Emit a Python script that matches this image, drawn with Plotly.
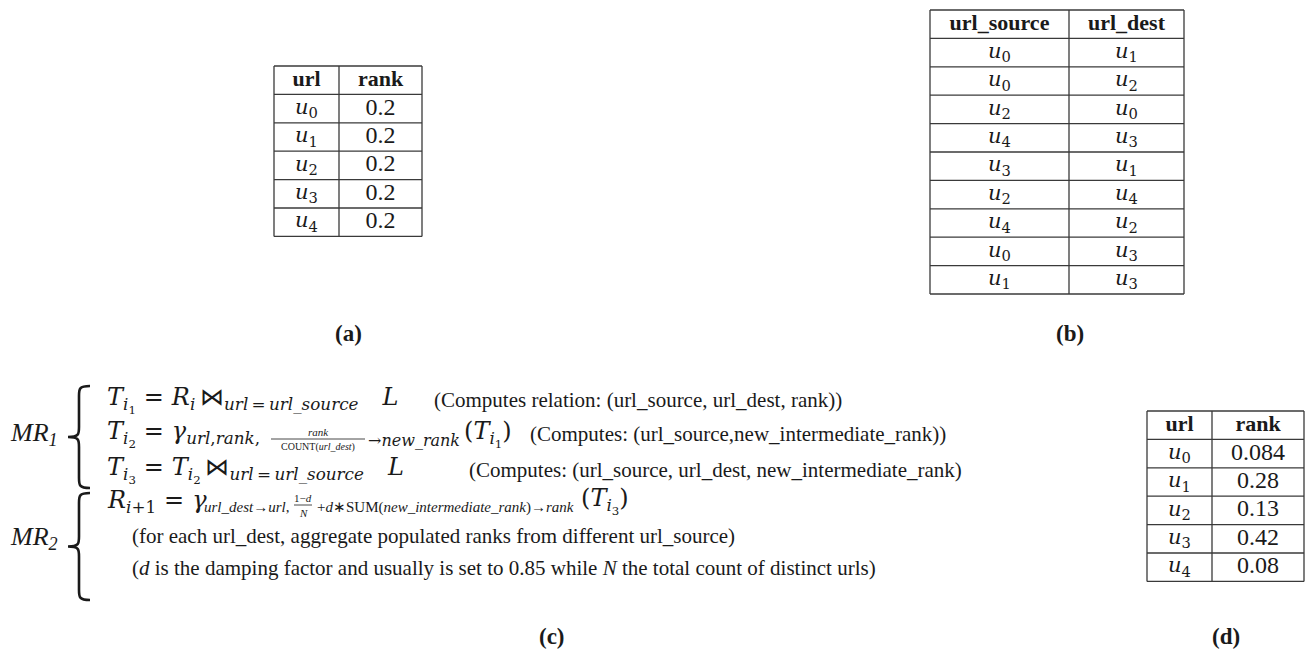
import plotly.graph_objects as go

W, H = 1309, 664

# (a) initial ranks
urls_a = [0, 1, 2, 3, 4]
ranks_a = ["0.2", "0.2", "0.2", "0.2", "0.2"]

# (b) link table
url_source = [0, 0, 2, 4, 3, 2, 4, 0, 1]
url_dest = [1, 2, 0, 3, 1, 4, 2, 3, 3]

# (d) ranks after the iteration
urls_d = [0, 1, 2, 3, 4]
ranks_d = ["0.084", "0.28", "0.13", "0.42", "0.08"]

SERIF = "Liberation Serif"
MATH = "DejaVu Serif"
INK = "#1a1a1a"
ROW_H = 28.4
EM = "\u2003"
THICK = "\u2004"
THIN = "\u2009"

fig = go.Figure()


def u(i):
    return "<i>u</i><sub>%d</sub>" % i


def add_table(x_edges, top, header, columns, fonts):
    n = len(columns[0]) + 1
    bottom = top + n * ROW_H
    line = dict(color="#3a3a3a", width=1.3)
    for r in range(n + 1):
        y = top + r * ROW_H
        fig.add_shape(type="line", x0=x_edges[0], x1=x_edges[-1], y0=y, y1=y, line=line)
    for x in x_edges:
        fig.add_shape(type="line", x0=x, x1=x, y0=top, y1=bottom, line=line)
    for j, col in enumerate(columns):
        xc = (x_edges[j] + x_edges[j + 1]) / 2
        fig.add_trace(go.Scatter(
            x=[xc], y=[top + 0.5 * ROW_H], mode="text",
            text=["<b>%s</b>" % header[j]],
            textfont=dict(family=SERIF, size=22, color=INK),
            hoverinfo="skip", showlegend=False,
        ))
        fam, size = fonts[j]
        fig.add_trace(go.Scatter(
            x=[xc] * len(col),
            y=[top + (r + 1.5) * ROW_H for r in range(len(col))],
            mode="text", text=list(col),
            textfont=dict(family=fam, size=size, color=INK),
            hoverinfo="skip", showlegend=False,
        ))


UF = (MATH, 21)
NF = (SERIF, 24)
add_table([274, 339, 422], 66, ["url", "rank"], [[u(i) for i in urls_a], ranks_a], [UF, NF])
add_table([930, 1069, 1184], 10, ["url_source", "url_dest"],
          [[u(i) for i in url_source], [u(i) for i in url_dest]], [UF, UF])
add_table([1147, 1212, 1304], 411, ["url", "rank"], [[u(i) for i in urls_d], ranks_d], [UF, NF])


def txt(x, y, s, size=21, anchor="left", bold=False, family=SERIF):
    if bold:
        s = "<b>%s</b>" % s
    fig.add_annotation(x=x, y=y, text=s, showarrow=False, xanchor=anchor, yanchor="middle",
                       font=dict(family=family, size=size, color=INK))


# panel labels
for lab, x, y in [("(a)", 348, 333), ("(b)", 1070, 333), ("(c)", 552, 636), ("(d)", 1226, 636)]:
    txt(x, y, lab, size=23, anchor="center", bold=True)


def brace(y0, y1, xt, xa):
    xm = (xt + xa) / 2
    ym = (y0 + y1) / 2
    r = 10
    p = (f"M {xa},{y0} C {xm},{y0} {xm},{y0 + 3} {xm},{y0 + r} L {xm},{ym - r} "
         f"C {xm},{ym - 3} {xm},{ym} {xt},{ym} C {xm},{ym} {xm},{ym + 3} {xm},{ym + r} "
         f"L {xm},{y1 - r} C {xm},{y1 - 3} {xm},{y1} {xa},{y1}")
    fig.add_shape(type="path", path=p, line=dict(color=INK, width=2.6))


brace(386, 488, 68, 90)
brace(493, 600, 68, 90)
txt(8, 434, "<i>MR</i><sub><i>1</i></sub>", size=26)
txt(8, 538, "<i>MR</i><sub><i>2</i></sub>", size=26)

MS = 24  # math size


def T(k):
    return "<i>T</i><sub><i>i</i><sub>%d</sub></sub>" % k


def frac(xc, y, num, den, half, size=11):
    txt(xc, y - 7, num, size=size, anchor="center")
    fig.add_shape(type="line", x0=xc - half, x1=xc + half, y0=y, y1=y,
                  line=dict(color=INK, width=0.8))
    txt(xc, y + 8, den, size=size - (1 if half > 20 else 0), anchor="center")


EQ = THICK + "=" + THICK
JOIN = THIN + "⋈<sub><i>url</i>" + THIN + "=" + THIN + "<i>url_source</i></sub>" + EM + "<i>L</i>"

# MR1 line 1
txt(105, 400, T(1) + EQ + "<i>R</i><sub><i>i</i></sub>" + JOIN, size=MS, family=MATH)
txt(432, 400, "(Computes relation: (url_source, url_dest, rank))")

# MR1 line 2
txt(105, 434, T(2) + EQ + "<i>γ</i><sub><i>url</i>,<i>rank</i>,</sub>", size=MS, family=MATH)
frac(318, 439, "<i>rank</i>", "COUNT(<i>url_dest</i>)", 47)
txt(366, 440, "→<i>new_rank</i>", size=16, family=MATH)
txt(462, 434, "(" + T(1) + ")", size=MS, family=MATH)
txt(528, 434, "(Computes: (url_source,new_intermediate_rank))")

# MR1 line 3
txt(105, 470, T(3) + EQ + T(2) + JOIN, size=MS, family=MATH)
txt(467, 470, "(Computes: (url_source, url_dest, new_intermediate_rank)")

# MR2 line 1
txt(105, 501, "<i>R</i><sub><i>i</i>+1</sub>" + EQ + "<i>γ</i>", size=MS, family=MATH)
txt(202, 507, "<i>url_dest</i>→<i>url</i>,", size=15)
frac(303, 505, "1−<i>d</i>", "<i>N</i>", 9)
txt(315, 507, "+<i>d</i>∗SUM(<i>new_intermediate_rank</i>)→<i>rank</i>", size=15)
txt(579, 501, "(" + T(3) + ")", size=MS, family=MATH)

# MR2 comments
txt(130, 536, "(for each url_dest, aggregate populated ranks from different url_source)")
txt(130, 568, "(<i>d</i> is the damping factor and usually is set to 0.85 while <i>N</i> the total count of distinct urls)")

fig.update_xaxes(range=[0, W], visible=False, fixedrange=True)
fig.update_yaxes(range=[H, 0], visible=False, fixedrange=True)
fig.update_layout(width=W, height=H, margin=dict(l=0, r=0, t=0, b=0),
                  plot_bgcolor="white", paper_bgcolor="white")

fig.write_html("out.html", config={"displayModeBar": False},
               post_script="document.body.style.margin='0';")
